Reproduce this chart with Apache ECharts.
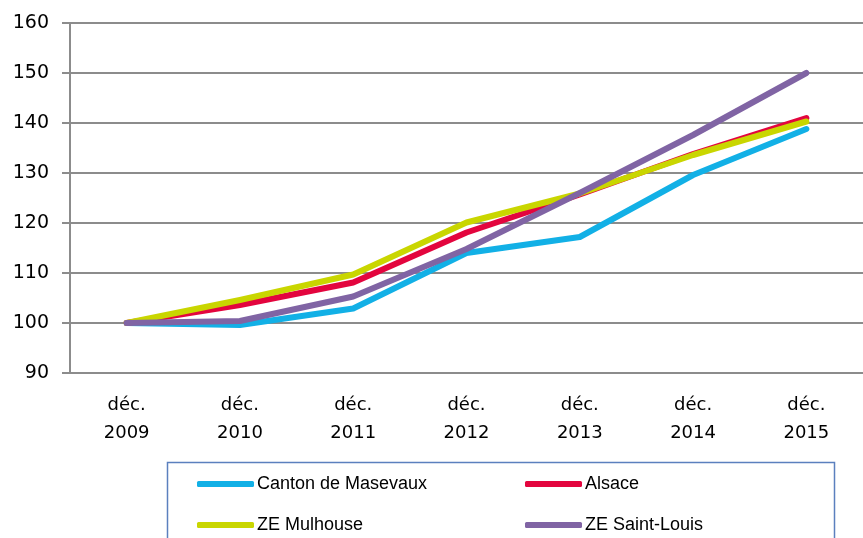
<!DOCTYPE html>
<html>
<head>
<meta charset="utf-8">
<script src="https://cdn.jsdelivr.net/npm/echarts@6/dist/echarts.min.js"></script>
<style>
  html, body { margin: 0; padding: 0; background: #fff; }
  #chart { width: 863px; height: 538px; }
</style>
</head>
<body>
<div id="chart"></div>
<script>
// indices base 100 en déc. 2009
const categories = ['déc.\n2009', 'déc.\n2010', 'déc.\n2011', 'déc.\n2012', 'déc.\n2013', 'déc.\n2014', 'déc.\n2015'];
const masevaux = [100, 99.6, 102.9, 114.0, 117.2, 129.6, 138.8];
const alsace = [100, 103.6, 108.1, 118.1, 125.7, 133.8, 141.0];
const mulhouse = [100, 104.6, 109.7, 120.1, 125.9, 133.6, 140.3];
const saintLouis = [100, 100.4, 105.3, 114.8, 126.0, 137.6, 150.0];
const yTicks = [90, 100, 110, 120, 130, 140, 150, 160];

const chart = echarts.init(document.getElementById('chart'));
const font = "'DejaVu Sans', sans-serif";
const legendFont = "'Liberation Sans', sans-serif";

const mkSeries = (name, data, color) => ({
  name, type: 'line', data,
  symbol: 'none',
  lineStyle: { color, width: 6, cap: 'round', join: 'round' },
  itemStyle: { color }
});

// one legend per entry so the two columns line up like the original box
const legendItem = (name, left, top) => ({
  data: [name], left, top,
  itemWidth: 57, itemHeight: 6, icon: 'roundRect',
  textStyle: { fontFamily: legendFont, fontSize: 18, color: '#000', padding: [0, 0, 0, -2] }
});

chart.setOption({
  animation: false,
  grid: { left: 70, top: 23, width: 800, height: 350 },
  xAxis: {
    type: 'category',
    data: categories,
    axisLine: { lineStyle: { color: '#8c8c8c', width: 2 } },
    axisTick: { length: 7, lineStyle: { color: '#8c8c8c', width: 2 } },
    axisLabel: { color: '#000', fontFamily: font, fontSize: 18, lineHeight: 28, margin: 18 }
  },
  yAxis: {
    type: 'value',
    min: yTicks[0], max: yTicks[yTicks.length - 1], interval: 10,
    axisLine: { show: true, lineStyle: { color: '#8c8c8c', width: 2 } },
    axisTick: { show: true, length: 8, lineStyle: { color: '#8c8c8c', width: 2 } },
    splitLine: { lineStyle: { color: '#8c8c8c', width: 2 } },
    axisLabel: { color: '#000', fontFamily: font, fontSize: 19, margin: 21 }
  },
  legend: [
    legendItem('Canton de Masevaux', 192, 470),
    legendItem('Alsace', 520, 470),
    legendItem('ZE Mulhouse', 192, 511),
    legendItem('ZE Saint-Louis', 520, 511)
  ],
  graphic: [{
    type: 'rect', left: 165, top: 460, silent: true,
    shape: { width: 667, height: 100 },
    style: { fill: 'none', stroke: '#5b80be', lineWidth: 1.5 }
  }],
  series: [
    mkSeries('Canton de Masevaux', masevaux, '#12b0e6'),
    mkSeries('Alsace', alsace, '#e3053e'),
    mkSeries('ZE Mulhouse', mulhouse, '#c9d600'),
    mkSeries('ZE Saint-Louis', saintLouis, '#8064a4')
  ]
});
</script>
</body>
</html>
